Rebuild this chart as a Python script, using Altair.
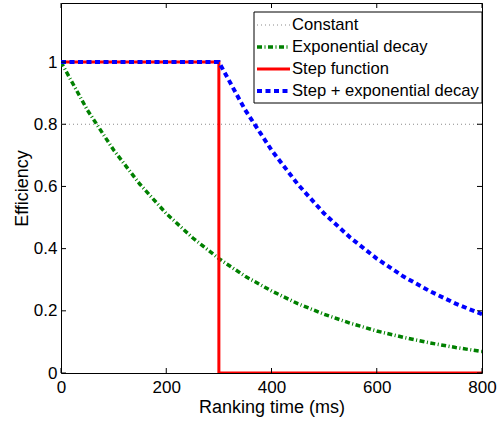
import altair as alt
import pandas as pd

# ---- data ----
series_names = ["Constant", "Exponential decay", "Step function", "Step + exponential decay"]

const_t = [0, 800]
const_y = [0.8, 0.8]

exp_t = [0, 50, 100, 150, 200, 250, 300, 350, 400, 450, 500, 550, 600, 650, 700, 750, 800]
exp_y = [1.0, 0.846, 0.717, 0.607, 0.513, 0.435, 0.368, 0.311, 0.264, 0.223, 0.189, 0.160, 0.135, 0.115, 0.097, 0.082, 0.069]

step_t = [0, 300, 300, 800]
step_y = [1.0, 1.0, 0.0, 0.0]

stepexp_t = [0, 300, 350, 400, 450, 500, 550, 600, 650, 700, 750, 800]
stepexp_y = [1.0, 1.0, 0.846, 0.717, 0.607, 0.513, 0.435, 0.368, 0.311, 0.264, 0.223, 0.189]

x_ticks = [0, 200, 400, 600, 800]
y_ticks = [0, 0.2, 0.4, 0.6, 0.8, 1.0]

# ---- styles ----
styles = {
    "Constant": dict(color="#8a8a8a", strokeDash=[1, 3], strokeWidth=1),
    "Exponential decay": dict(color="#008000", strokeDash=[5, 2.5, 1, 2.5], strokeWidth=3.5),
    "Step function": dict(color="#ff0000", strokeDash=[1, 0], strokeWidth=3),
    "Step + exponential decay": dict(color="#0000ff", strokeDash=[5, 3.5], strokeWidth=4),
}

# ---- build tables ----
rows = []
for name, ts, ys_ in zip(series_names,
                         [const_t, exp_t, step_t, stepexp_t],
                         [const_y, exp_y, step_y, stepexp_y]):
    for i, (t, y) in enumerate(zip(ts, ys_)):
        rows.append({"series": name, "t": t, "y": y, "i": i})
df = pd.DataFrame(rows)

legend_df = pd.DataFrame({"series": series_names, "row": list(range(len(series_names)))})
xt_df = pd.DataFrame({"t": x_ticks})
yt_df = pd.DataFrame({"y": y_ticks})
box_df = pd.DataFrame({"k": [0]})

W, H = 421, 370
FONT = "Liberation Sans"

xs = alt.Scale(domain=[0, 800], nice=False, zero=False)
ys = alt.Scale(domain=[0, 1.19], nice=False, zero=False)

x_axis = alt.Axis(values=x_ticks, tickSize=0, domain=False, grid=False, labelExpr="datum.value + ''",
                  labelFont=FONT, labelFontSize=17, labelColor="black", labelFlush=False,
                  labelPadding=6, title="Ranking time (ms)",
                  titleFont=FONT, titleFontSize=18, titleFontWeight="normal",
                  titleColor="black", titlePadding=3)
y_axis = alt.Axis(values=y_ticks, tickSize=0, domain=False, grid=False, labelExpr="datum.value + ''",
                  labelFont=FONT, labelFontSize=17, labelColor="black", labelFlush=False,
                  labelPadding=4, title="Efficiency",
                  titleFont=FONT, titleFontSize=18, titleFontWeight="normal",
                  titleColor="black", titlePadding=2)

X = alt.X("t:Q", scale=xs, axis=x_axis)
Y = alt.Y("y:Q", scale=ys, axis=y_axis)


def series_layer(name):
    st = styles[name]
    return alt.Chart(df).transform_filter(alt.datum.series == name).mark_line(
        clip=True, strokeCap="butt", **st).encode(x=X, y=Y, order="i:Q")


lines = [series_layer(n) for n in series_names]

# inward ticks on all four sides
tick_bottom = alt.Chart(xt_df).mark_rule(color="black", strokeWidth=1).encode(
    x=X, y=alt.value(H), y2=alt.value(H - 5))
tick_top = alt.Chart(xt_df).mark_rule(color="black", strokeWidth=1).encode(
    x=X, y=alt.value(0), y2=alt.value(5))
tick_left = alt.Chart(yt_df).mark_rule(color="black", strokeWidth=1).encode(
    y=Y, x=alt.value(0), x2=alt.value(5))
tick_right = alt.Chart(yt_df).mark_rule(color="black", strokeWidth=1).encode(
    y=Y, x=alt.value(W), x2=alt.value(W - 5))

# legend box
leg_box = alt.Chart(box_df).mark_rect(fill="white", stroke="black", strokeWidth=1).encode(
    x=alt.value(193), x2=alt.value(W), y=alt.value(9), y2=alt.value(100))

leg_lines = []
for name in series_names:
    leg_lines.append(
        alt.Chart(legend_df).transform_filter(alt.datum.series == name)
        .transform_calculate(ly="22 + datum.row * 22")
        .mark_rule(strokeCap="butt", **styles[name]).encode(
            y=alt.Y("ly:Q", scale=None), x=alt.value(196), x2=alt.value(229))
    )

leg_text = alt.Chart(legend_df).transform_calculate(ly="22 + datum.row * 22").mark_text(
    align="left", baseline="middle", font=FONT, fontSize=16.6, color="black").encode(
    y=alt.Y("ly:Q", scale=None), x=alt.value(231), text="series:N")

chart = alt.layer(*lines, tick_bottom, tick_top, tick_left, tick_right, leg_box, *leg_lines, leg_text).properties(
    width=W, height=H,
    autosize=alt.AutoSizeParams(type="none"),
    padding={"left": 61, "top": 3, "right": 21, "bottom": 49},
    background="white",
).configure_view(stroke="black", strokeWidth=1)

chart.save("out.html", embed_options={"renderer": "svg", "actions": False})
